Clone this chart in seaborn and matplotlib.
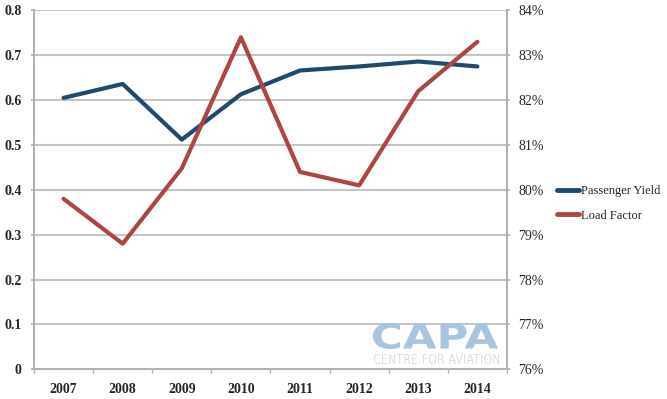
import pandas as pd
import seaborn as sns
import matplotlib.pyplot as plt
from matplotlib.lines import Line2D
from matplotlib.textpath import TextPath
from matplotlib.patches import PathPatch
from matplotlib.font_manager import FontProperties
from matplotlib.transforms import Affine2D, IdentityTransform

sns.set_theme(style="white")
plt.rcParams['font.family'] = ['Liberation Serif', 'DejaVu Serif']

# datos
years = ['2007', '2008', '2009', '2010', '2011', '2012', '2013', '2014']
passenger_yield = [0.605, 0.636, 0.512, 0.613, 0.666, 0.675, 0.686, 0.675]
load_factor = [79.8, 78.8, 80.48, 83.4, 80.4, 80.1, 82.2, 83.3]

blue = '#1f4a6e'
red = '#ad4542'
grid_c = '#c4c4c4'

df = pd.DataFrame({'year': years, 'pos': range(len(years)),
                   'yield': passenger_yield, 'lf': load_factor})

fig = plt.figure(figsize=(6.67, 3.99), dpi=100)
ax = fig.add_axes([0.051, 0.0744, 0.709, 0.8996])
ax2 = ax.twinx()

sns.lineplot(data=df, x='pos', y='yield', ax=ax, color=blue, linewidth=3, zorder=3)
sns.lineplot(data=df, x='pos', y='lf', ax=ax2, color=red, linewidth=3, zorder=3)

ax.set_ylim(0, 0.8)
ax2.set_ylim(76, 84)
ax.set_xlim(-0.5, len(years) - 0.5)
ax.set_yticks([i / 10 for i in range(9)])
ax.set_yticklabels(['0'] + [f'{i / 10:.1f}' for i in range(1, 9)])
ax2.set_yticks(range(76, 85))
ax2.set_yticklabels([f'{v}%' for v in range(76, 85)])
ax.set_xticks(df['pos'])
ax.set_xticklabels(years)
ax.set_xticks([i - 0.5 for i in range(len(years) + 1)], minor=True)

ax.grid(axis='y', color=grid_c, linewidth=1.5, zorder=0)
ax.set_axisbelow(True)
ax.set_xlabel('')
ax.set_ylabel('')
ax2.set_ylabel('')

for a in (ax, ax2):
    for s in a.spines.values():
        s.set_color('#b0b0b0')
        s.set_linewidth(1.2)
    a.spines['top'].set_visible(False)

ax.tick_params(axis='x', which='major', length=0, pad=10, labelsize=10)
ax.tick_params(axis='x', which='minor', length=3, color='#b0b0b0', direction='out', bottom=True)
ax.tick_params(axis='y', length=2.5, color='#b0b0b0', left=True, pad=6.5, labelsize=10)
ax2.tick_params(axis='y', length=2.5, color='#b0b0b0', right=True, pad=5.5, labelsize=10)
for lab in ax.get_xticklabels() + ax.get_yticklabels():
    lab.set_fontweight('bold')


# marca de agua CAPA, ajustada a una caja en pixeles
def caja_texto(texto, x0, y0, w, h, color, weight):
    tp = TextPath((0, 0), texto, size=20,
                  prop=FontProperties(family='DejaVu Sans', weight=weight))
    bb = tp.get_extents()
    tr = (Affine2D().translate(-bb.x0, -bb.y0)
          .scale(w / bb.width, h / bb.height).translate(x0, y0))
    fig.patches.append(PathPatch(tp, transform=tr + IdentityTransform(),
                                 facecolor=color, edgecolor='none', zorder=0))


caja_texto('CAPA', 373, 399 - 349, 125, 26, '#a9c4de', 'heavy')
caja_texto('CENTRE FOR AVIATION', 374, 399 - 364, 125, 10, '#c3c3c3', 'light')

handles = [Line2D([], [], color=blue, linewidth=3.5),
           Line2D([], [], color=red, linewidth=3.5)]
fig.legend(handles, ['Passenger Yield', 'Load Factor'], loc='center left',
           bbox_to_anchor=(0.818, 0.49), frameon=False,
           handlelength=1.8, handletextpad=0.1, labelspacing=1.0,
           prop={'family': 'Liberation Serif', 'size': 9})

fig.savefig('out.png', dpi=100)
